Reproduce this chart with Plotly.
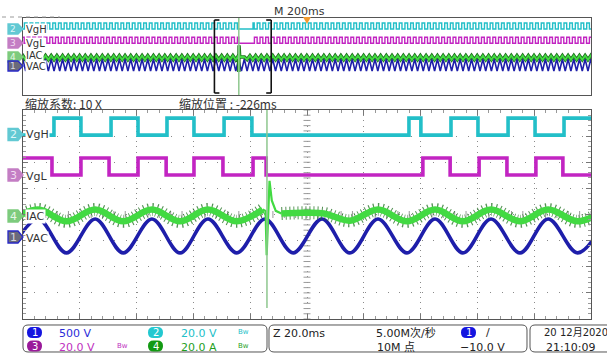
import plotly.graph_objects as go

W, H = 607, 356

# ---------------- data ----------------
# Zoomed window: 10 div x 20 ms/div, time in ms from the left edge
vgh_t = [0, 10.9, 20.4, 31.0, 40.5, 50.7, 60.2, 70.8, 80.6, 135.9, 140.1, 150.7, 160.2, 170.8, 180.3, 190.5, 200]
vgh_v = [0, 13, 0, 13, 0, 13, 0, 13, 0, 13, 0, 13, 0, 13, 0, 13, 13]          # V
vgl_t = [0, 10.2, 20.4, 30.3, 40.5, 50.4, 60.2, 70.4, 81.0, 85.6, 140.8, 150.4, 160.6, 170.4, 180.6, 190.1, 200]
vgl_v = [13, 0, 13, 0, 13, 0, 13, 0, 13, 0, 13, 0, 13, 0, 13, 0, 0]            # V
vac_t = [-4.7, 5.3, 15.3, 25.4, 35.3, 45.4, 55.3, 65.1, 75.3, 85.2, 95.1, 105.3,
         115.1, 125.0, 135.2, 145.1, 154.9, 164.8, 175.0, 184.9, 195.3, 205.2]
vac_v = [-325, 325, -325, 325, -325, 325, -325, 325, -325, 325, -325, 325,
         -325, 325, -325, 325, -325, 325, -325, 325, -325, 325]                 # V
iac_t_pre = [-4.7, 5.3, 15.3, 25.4, 35.3, 45.4, 55.3, 65.1, 75.3, 84.4]
iac_v_pre = [-4, 5, -4, 5, -4, 5, -4, 5, -4, 5]                                 # A
iac_t_spk = [84.4, 85.4, 85.8, 86.3, 86.8, 87.6, 89.0, 91.0]
iac_v_spk = [5, 4, -30, 4, 27, 12, 4, 2]
iac_t_post = [91.0, 99.0, 106.0, 115.1, 125.0, 135.2, 145.1, 154.9, 164.8, 175.0, 184.9, 195.3, 205.2]
iac_v_post = [2, 2.5, 2, -3.5, 5, -4, 5, -4, 5, -4, 5, -4, 5]
fault_t = 85.9

# one 20 ms cycle of each signal (same phase as the zoomed window)
cyc_period = 20
vgh_cyc_t, vgh_cyc_v = [10.9, 20.4], [13, 0]
vgl_cyc_t, vgl_cyc_v = [10.2, 20.4], [0, 13]
vac_cyc_t, vac_cyc_v = [5.3, 15.3], [325, -325]
iac_cyc_t, iac_cyc_v = [5.3, 15.3], [5, -4]

# channel settings (per division) and ground marker positions (div)
ch_scale = {"VAC": 500, "VgH": 20, "VgL": 20, "IAC": 20}
ch_off = {"VgH": 3.04, "VgL": 1.51, "IAC": -0.06, "VAC": -0.82}

# timebase
ov_span = 2000          # M 200ms x 10 div
trig_ms = 1000
zoom_pos = -226
zoom_span = 200
win_start = trig_ms + zoom_pos - zoom_span / 2

# ---------------- style ----------------
FONT = "DejaVu Sans, Noto Sans CJK SC, sans-serif"
CJK = "Noto Sans CJK SC, DejaVu Sans, sans-serif"
C_VGH = "#22bfc8"
C_VGL = "#c224c2"
C_IAC = "#42da42"
C_IAC_D = "#1d6f1d"
C_VAC = "#1e1eaa"

L, R = 23, 591
OV_T, OV_B = 18, 95
MN_T, MN_B = 110, 319


def fx(px):
    return px / W


def fy(py):
    return 1 - py / H


def div(vals, ch):
    return [ch_off[ch] + v / ch_scale[ch] for v in vals]


def tile(ct, cv, period, t_from, t_to):
    ts, vs = [], []
    k = int((t_from - ct[-1]) // period) - 1
    while k * period + ct[0] <= t_to:
        for a, b in zip(ct, cv):
            tt = k * period + a
            if t_from <= tt <= t_to:
                ts.append(tt)
                vs.append(b)
        k += 1
    return ts, vs


def overview(main_t, main_v, ct, cv):
    pre_t, pre_v = tile(ct, cv, cyc_period, -win_start - 30, main_t[0] - 0.01)
    post_t, post_v = tile(ct, cv, cyc_period, main_t[-1] + 0.01, ov_span - win_start + 30)
    t = pre_t + list(main_t) + post_t
    v = pre_v + list(main_v) + post_v
    return [x + win_start for x in t], v


fig = go.Figure()

# ---------------- overview traces ----------------
t, v = overview(vac_t, vac_v, vac_cyc_t, vac_cyc_v)
fig.add_trace(go.Scatter(x=t, y=div(v, "VAC"), mode="lines", line=dict(color=C_VAC, width=1.6),
                         xaxis="x", yaxis="y", hoverinfo="skip"))
iac_all_t = iac_t_pre + iac_t_spk[1:] + iac_t_post[1:]
iac_all_v = iac_v_pre + iac_v_spk[1:] + iac_v_post[1:]
t, v = overview(iac_all_t, iac_all_v, iac_cyc_t, iac_cyc_v)
fig.add_trace(go.Scatter(x=t, y=div(v, "IAC"), mode="lines", line=dict(color=C_IAC_D, width=3.4),
                         xaxis="x", yaxis="y", hoverinfo="skip"))
fig.add_trace(go.Scatter(x=t, y=div(v, "IAC"), mode="lines", line=dict(color=C_IAC, width=1.8),
                         xaxis="x", yaxis="y", hoverinfo="skip"))
t, v = overview(vgl_t, vgl_v, vgl_cyc_t, vgl_cyc_v)
fig.add_trace(go.Scatter(x=t, y=div(v, "VgL"), mode="lines", line=dict(color=C_VGL, width=1.4, shape="hv"),
                         xaxis="x", yaxis="y", hoverinfo="skip"))
t, v = overview(vgh_t, vgh_v, vgh_cyc_t, vgh_cyc_v)
fig.add_trace(go.Scatter(x=t, y=div(v, "VgH"), mode="lines", line=dict(color=C_VGH, width=1.4, shape="hv"),
                         xaxis="x", yaxis="y", hoverinfo="skip"))

# ---------------- main window decorations (center cross ticks) ----------------
cx = [i * 4 for i in range(51)]
fig.add_trace(go.Scatter(x=cx, y=[0] * len(cx), mode="markers",
                         marker=dict(symbol="line-ns", size=5, line=dict(color="#9a9a9a", width=1)),
                         xaxis="x2", yaxis="y2", hoverinfo="skip"))
cy = [-4 + i * 0.2 for i in range(41)]
fig.add_trace(go.Scatter(x=[100] * len(cy), y=cy, mode="markers",
                         marker=dict(symbol="line-ew", size=5, line=dict(color="#9a9a9a", width=1)),
                         xaxis="x2", yaxis="y2", hoverinfo="skip"))

# ---------------- main traces ----------------
fig.add_trace(go.Scatter(x=vac_t, y=div(vac_v, "VAC"), mode="lines",
                         line=dict(color=C_VAC, width=3.6, shape="spline", smoothing=1.0),
                         xaxis="x2", yaxis="y2", hoverinfo="skip"))
for tt, vv in ((iac_t_pre, iac_v_pre), (iac_t_post, iac_v_post)):
    fig.add_trace(go.Scatter(x=tt, y=div(vv, "IAC"), mode="lines",
                             line=dict(color=C_IAC_D, width=13, shape="spline", smoothing=1.0,
                                       dash="1px,3px"),
                             opacity=0.75, xaxis="x2", yaxis="y2", hoverinfo="skip"))
    fig.add_trace(go.Scatter(x=tt, y=div(vv, "IAC"), mode="lines",
                             line=dict(color=C_IAC, width=6.5, shape="spline", smoothing=1.0),
                             xaxis="x2", yaxis="y2", hoverinfo="skip"))
fig.add_trace(go.Scatter(x=iac_t_spk, y=div(iac_v_spk, "IAC"), mode="lines",
                         line=dict(color=C_IAC, width=2.2),
                         xaxis="x2", yaxis="y2", hoverinfo="skip"))
fig.add_trace(go.Scatter(x=vgl_t, y=div(vgl_v, "VgL"), mode="lines",
                         line=dict(color=C_VGL, width=3.6, shape="hv"),
                         xaxis="x2", yaxis="y2", hoverinfo="skip"))
fig.add_trace(go.Scatter(x=vgh_t, y=div(vgh_v, "VgH"), mode="lines",
                         line=dict(color=C_VGH, width=3.6, shape="hv"),
                         xaxis="x2", yaxis="y2", hoverinfo="skip"))

# ---------------- shapes ----------------
shapes = []


def P(x, y):
    return f"{fx(x):.5f},{fy(y):.5f}"


def rrect(x0, y0, x1, y1, r):
    return ("M " + P(x0 + r, y0) + " L " + P(x1 - r, y0) + " Q " + P(x1, y0) + " " + P(x1, y0 + r) +
            " L " + P(x1, y1 - r) + " Q " + P(x1, y1) + " " + P(x1 - r, y1) +
            " L " + P(x0 + r, y1) + " Q " + P(x0, y1) + " " + P(x0, y1 - r) +
            " L " + P(x0, y0 + r) + " Q " + P(x0, y0) + " " + P(x0 + r, y0) + " Z")


def pent(x0, xt, yc, h):
    pts = [(x0, yc - h / 2), (xt - 5, yc - h / 2), (xt, yc), (xt - 5, yc + h / 2), (x0, yc + h / 2)]
    return "M " + " L ".join(P(a, b) for a, b in pts) + " Z"


# cursor line in main window
shapes.append(dict(type="line", xref="x2", yref="paper", x0=fault_t, x1=fault_t,
                   y0=fy(MN_T), y1=fy(308), line=dict(color="#8ec78e", width=1.5), layer="above"))
# overview: cursor, zoom brackets, trigger
ov_fault = win_start + fault_t
shapes.append(dict(type="line", xref="x", yref="paper", x0=ov_fault, x1=ov_fault,
                   y0=fy(OV_T), y1=fy(OV_B), line=dict(color="#8ec78e", width=1.5), layer="above"))
serif = 5 / (R - L) * ov_span
for xb, sgn in ((win_start, 1), (win_start + zoom_span, -1)):
    shapes.append(dict(type="line", xref="x", yref="paper", x0=xb, x1=xb, y0=fy(20), y1=fy(93),
                       line=dict(color="#111", width=1.6), layer="above"))
    for yb in (20, 93):
        shapes.append(dict(type="line", xref="x", yref="paper", x0=xb, x1=xb + sgn * serif, y0=fy(yb), y1=fy(yb),
                           line=dict(color="#111", width=1.6), layer="above"))
tw = 4 / (R - L) * ov_span
shapes.append(dict(type="path", xref="x", yref="paper",
                   path=f"M {trig_ms - tw},{fy(17)} L {trig_ms + tw},{fy(17)} L {trig_ms},{fy(24)} Z",
                   fillcolor="#f29a2e", line=dict(width=0), layer="above"))
# dashed line at top-left
shapes.append(dict(type="line", xref="paper", yref="paper", x0=fx(2), x1=fx(60), y0=fy(17), y1=fy(17),
                   line=dict(color="#9a9a9a", width=1, dash="4px,4px")))

# channel markers
markers = [
    ("2", 134.5, 12, "#62c9d3", "#62c9d3", "#dff6f8"),
    ("3", 175, 12, "#c47ec4", "#c47ec4", "#f1dcf1"),
    ("4", 216, 12, "#7dcb7d", "#7dcb7d", "#e6f6e6"),
    ("1", 237, 12, "#6a6a7a", "#2828c8", "#d8d8e0"),
    ("2", 29, 10, "#62c9d3", "#62c9d3", "#dff6f8"),
    ("3", 43, 10, "#c47ec4", "#c47ec4", "#f1dcf1"),
    ("4", 57, 10, "#7dcb7d", "#7dcb7d", "#e6f6e6"),
    ("1", 66, 10, "#6a6a7a", "#2828c8", "#d8d8e0"),
]
annotations = []
for num, yc, h, fill, edge, tcol in markers:
    shapes.append(dict(type="path", xref="paper", yref="paper", path=pent(8, 23, yc, h),
                       fillcolor=fill, line=dict(color=edge, width=1.3), layer="above"))
    annotations.append(dict(x=fx(13), y=fy(yc), xref="paper", yref="paper", text=num, showarrow=False,
                            font=dict(family=FONT, size=h - 1, color=tcol), xanchor="center", yanchor="middle"))

# info bar boxes
shapes.append(dict(type="path", xref="paper", yref="paper", path=rrect(23, 325, 267, 352, 5),
                   line=dict(color="#555", width=1), fillcolor="white"))
shapes.append(dict(type="path", xref="paper", yref="paper", path=rrect(269, 325, 527, 352, 5),
                   line=dict(color="#555", width=1), fillcolor="white"))
shapes.append(dict(type="path", xref="paper", yref="paper", path=rrect(530, 325, 615, 352, 5),
                   line=dict(color="#555", width=1), fillcolor="white"))
pills = [("1", 27, 327, "#1414e0"), ("2", 148, 327, "#22c8d0"), ("3", 27, 340.5, "#9a1a9a"),
         ("4", 148, 340.5, "#139a13"), ("1", 461, 327, "#1414e0")]
for num, x0, y0, col in pills:
    shapes.append(dict(type="path", xref="paper", yref="paper", path=rrect(x0, y0, x0 + 15, y0 + 11, 5.5),
                       fillcolor=col, line=dict(width=0), layer="above"))
    annotations.append(dict(x=fx(x0 + 7.5), y=fy(y0 + 5.5), xref="paper", yref="paper", text=num,
                            showarrow=False, font=dict(family=FONT, size=10, color="white"),
                            xanchor="center", yanchor="middle"))


def txt(x, y, s, size=11, color="#222", family=FONT, bg=None):
    d = dict(x=fx(x), y=fy(y), xref="paper", yref="paper", text=s, showarrow=False,
             font=dict(family=family, size=size, color=color), xanchor="left", yanchor="middle", borderpad=0)
    if bg:
        d["bgcolor"] = bg
    annotations.append(d)


# trace labels
for s, yy in (("VgH", 134.5), ("VgL", 176), ("IAC", 216), ("VAC", 238)):
    txt(25, yy, s, size=11, color="#333", bg="white")
for s, yy in (("VgH", 29), ("VgL", 43), ("IAC", 56), ("VAC", 66)):
    txt(25, yy, s, size=10, color="#333", bg="white")

txt(273, 11, "M 200ms", size=11, color="#333")
txt(24, 103, "缩放系数: 10 X", size=12, color="#333", family=CJK)
txt(178, 103, "缩放位置 : -226ms", size=12, color="#333", family=CJK)

# info bar text
txt(58, 333, "500 V", color="#2b2bd9")
txt(180, 333, "20.0 V", color="#22c0c8")
txt(237, 332, "Bw", size=7, color="#22c0c8")
txt(58, 347, "20.0 V", color="#c030c0")
txt(116, 346, "Bw", size=7, color="#c030c0")
txt(180, 347, "20.0 A", color="#1f9f1f")
txt(237, 346, "Bw", size=7, color="#1f9f1f")
txt(272, 333, "Z 20.0ms", color="#222")
txt(375, 333, "5.00M次/秒", color="#222", family=FONT)
txt(376, 347, "10M 点", color="#222", family=FONT)
txt(485, 332, "/", color="#222")
txt(459, 347, "−10.0 V", color="#222")
txt(543, 332, "20 12月2020", size=10, color="#222", family=FONT)
txt(545, 347, "21:10:09", color="#222")

fig.update_layout(
    width=W, height=H, margin=dict(l=0, r=0, t=0, b=0),
    paper_bgcolor="white", plot_bgcolor="white", showlegend=False,
    xaxis=dict(domain=[fx(L), fx(R)], range=[0, ov_span], showgrid=False, zeroline=False,
               showticklabels=False, ticks="", showline=True, mirror=True, linecolor="#555",
               linewidth=1, anchor="y", fixedrange=True),
    yaxis=dict(domain=[fy(OV_B), fy(OV_T)], range=[-4.03, 4.22], showgrid=False, zeroline=False,
               showticklabels=False, ticks="", showline=True, mirror=True, linecolor="#555",
               linewidth=1, anchor="x", fixedrange=True),
    xaxis2=dict(domain=[fx(L), fx(R)], range=[0, zoom_span], tick0=0, dtick=20, showgrid=True,
                gridcolor="#8a8a8a", gridwidth=1, griddash="1px,4.2px", zeroline=False,
                showticklabels=False, ticks="inside", ticklen=5, tickcolor="#777",
                minor=dict(ticks="inside", ticklen=3, dtick=4, tickcolor="#999", showgrid=False),
                showline=True, mirror="allticks", linecolor="#555", linewidth=1, anchor="y2"),
    yaxis2=dict(domain=[fy(MN_B), fy(MN_T)], range=[-4, 4], tick0=0, dtick=1, showgrid=True,
                gridcolor="#8a8a8a", gridwidth=1, griddash="1px,10.4px", zeroline=False,
                showticklabels=False, ticks="inside", ticklen=5, tickcolor="#777",
                minor=dict(ticks="inside", ticklen=3, dtick=0.2, tickcolor="#999", showgrid=False),
                showline=True, mirror="allticks", linecolor="#555", linewidth=1, anchor="x2"),
    shapes=shapes, annotations=annotations,
)

fig.write_html("out.html", config={"displayModeBar": False},
               post_script="document.body.style.margin='0';document.body.style.overflow='hidden';")
